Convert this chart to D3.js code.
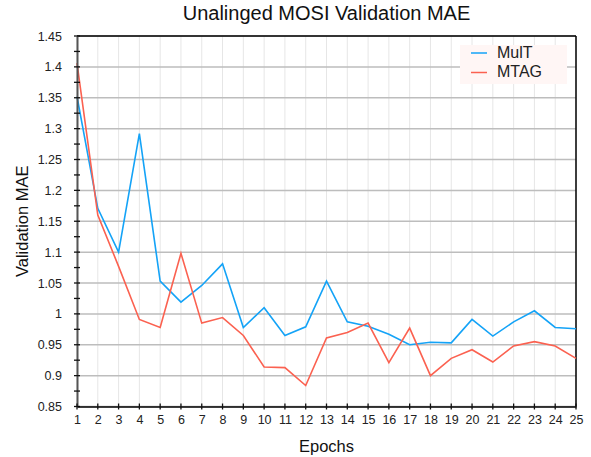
<!DOCTYPE html>
<html><head><meta charset="utf-8">
<script src="https://cdn.jsdelivr.net/npm/d3@7"></script>
<style>body{margin:0;background:#fff;font-family:"Liberation Sans",Arial,Helvetica,sans-serif;}</style>
</head><body><svg id="c" width="591" height="457"></svg>
<script>
const epochs = d3.range(1, 26);
const mult = [1.352,1.171,1.100,1.292,1.053,1.019,1.046,1.081,0.978,1.010,0.965,0.979,1.053,0.987,0.980,0.967,0.950,0.954,0.953,0.991,0.964,0.987,1.005,0.978,0.976];
const mtag = [1.406,1.160,1.077,0.991,0.978,1.098,0.985,0.994,0.965,0.914,0.913,0.884,0.961,0.970,0.985,0.921,0.977,0.900,0.928,0.942,0.922,0.948,0.955,0.948,0.928];
const yTicks = [0.85,0.9,0.95,1,1.05,1.1,1.15,1.2,1.25,1.3,1.35,1.4,1.45];
const seriesNames = ["MulT","MTAG"];
const colors = ["#14a3f7","#fb6150"];
const title = "Unalinged MOSI Validation MAE";

const svg = d3.select("#c");
const L=77,R=576,T=36,B=406.5;
const x = d3.scaleLinear().domain([1,25]).range([L,R]);
const y = d3.scaleLinear().domain([0.85,1.45]).range([B,T]);
const font = '"Liberation Sans",Arial,Helvetica,sans-serif';

// vertical grid
svg.append("g").selectAll("line").data(epochs).join("line")
  .attr("x1",d=>x(d)).attr("x2",d=>x(d)).attr("y1",T).attr("y2",B)
  .attr("stroke","#e6e6e6").attr("stroke-width",1);
// horizontal grid
svg.append("g").selectAll("line").data(yTicks).join("line")
  .attr("x1",L).attr("x2",R).attr("y1",d=>y(d)).attr("y2",d=>y(d))
  .attr("stroke","#bdbdbd").attr("stroke-width",1.5);

// border top/right
svg.append("line").attr("x1",L).attr("x2",R).attr("y1",T).attr("y2",T).attr("stroke","#000").attr("stroke-width",1.5);
svg.append("line").attr("x1",R).attr("x2",R).attr("y1",T).attr("y2",B).attr("stroke","#000").attr("stroke-width",1.5);

// series lines
const line = d3.line().x((d,i)=>x(epochs[i])).y(d=>y(d));
[mult,mtag].forEach((s,k)=>{
  svg.append("path").datum(s).attr("d",line).attr("fill","none")
    .attr("stroke",colors[k]).attr("stroke-width",1.6).attr("stroke-linejoin","miter");
});

// y axis
const yMinor = d3.range(0,24).map(i=>0.875+i*0.05).filter(v=>v<1.45);
const yAxis = svg.append("g").attr("transform",`translate(${L},0)`)
  .call(d3.axisLeft(y).tickValues(yTicks).tickFormat(d=>d3.format("")(+d.toFixed(2))).tickSize(0).tickPadding(15));
yAxis.select(".domain").attr("stroke","#555").attr("stroke-width",2);
yAxis.selectAll("text").attr("font-family",font).attr("font-size",12.5).attr("fill","#222");
svg.append("g").selectAll("line").data(yTicks.concat(yMinor)).join("line")
  .attr("x1",L-3).attr("x2",L+3).attr("y1",d=>y(d)).attr("y2",d=>y(d)).attr("stroke","#111").attr("stroke-width",1.3);

// x axis
const xAxis = svg.append("g").attr("transform",`translate(0,${B})`)
  .call(d3.axisBottom(x).tickValues(epochs).tickFormat(d3.format("d")).tickSize(0).tickPadding(9));
xAxis.select(".domain").attr("stroke","#000").attr("stroke-width",1.5);
xAxis.selectAll("text").attr("font-family",font).attr("font-size",12.5).attr("fill","#222");
svg.append("g").selectAll("line").data(epochs).join("line")
  .attr("x1",d=>x(d)).attr("x2",d=>x(d)).attr("y1",B-3).attr("y2",B+3).attr("stroke","#111").attr("stroke-width",1.3);

// title & labels
svg.append("text").attr("x",(L+R)/2).attr("y",20).attr("text-anchor","middle")
  .attr("font-family",font).attr("font-size",20).attr("fill","#111").text(title);
svg.append("text").attr("transform",`translate(28,${(T+B)/2}) rotate(-90)`).attr("text-anchor","middle")
  .attr("font-family",font).attr("font-size",16.5).attr("fill","#111").text("Validation MAE");
svg.append("text").attr("x",(L+R)/2).attr("y",452).attr("text-anchor","middle")
  .attr("font-family",font).attr("font-size",16.5).attr("fill","#111").text("Epochs");

// legend
const lg = svg.append("g");
lg.append("rect").attr("x",460).attr("y",45).attr("width",107).attr("height",39).attr("fill","#fff6f5");
seriesNames.forEach((n,i)=>{
  const yy = 52+i*19.5;
  lg.append("line").attr("x1",471).attr("x2",487).attr("y1",yy+1).attr("y2",yy+1).attr("stroke",colors[i]).attr("stroke-width",1.5);
  lg.append("text").attr("x",497).attr("y",yy+5.5).attr("font-family",font).attr("font-size",16).attr("fill","#222").text(n);
});
</script></body></html>
